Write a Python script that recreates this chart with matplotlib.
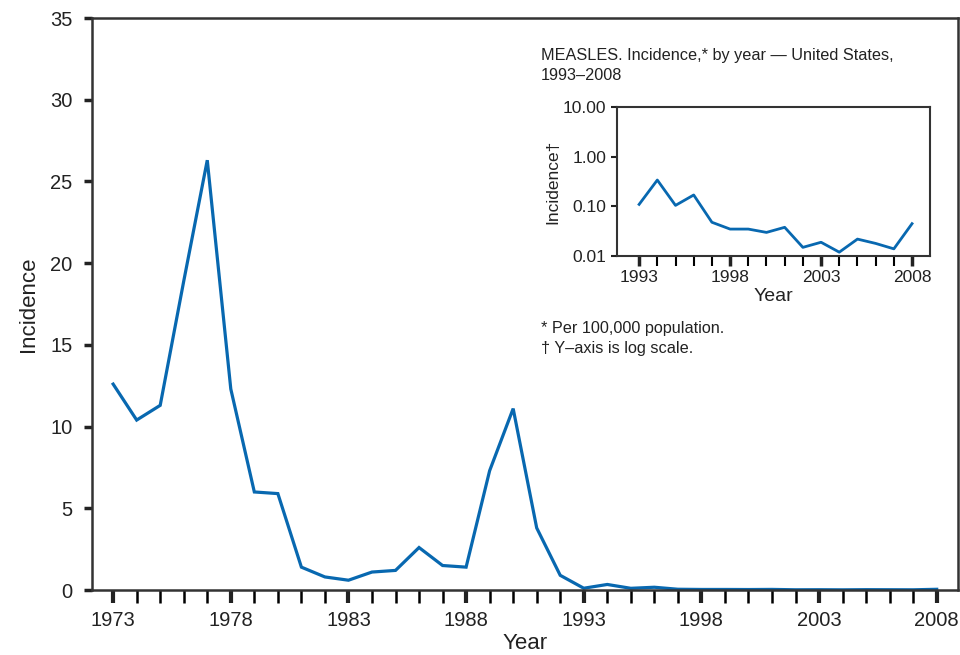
import matplotlib.pyplot as plt
from matplotlib.ticker import FixedLocator, MultipleLocator, FixedFormatter

plt.rcParams['font.family'] = ['Liberation Sans', 'DejaVu Sans']

# Incidence per 100,000 population, 1973-2008
years = list(range(1973, 2009))
incidence = [12.6, 10.4, 11.3, 18.9, 26.3, 12.3, 6.0, 5.9, 1.4, 0.8, 0.6, 1.1,
             1.2, 2.6, 1.5, 1.4, 7.3, 11.1, 3.8, 0.9,
             0.11, 0.34, 0.105, 0.17, 0.048, 0.035, 0.035, 0.030, 0.038,
             0.015, 0.019, 0.012, 0.022, 0.018, 0.014, 0.045]

# inset: 1993-2008, log scale
inset_years = years[20:]
inset_vals = incidence[20:]

blue = '#0868b0'

fig = plt.figure(figsize=(9.6, 6.55), dpi=100)
ax = fig.add_axes([0.0958, 0.0992, 0.902, 0.8733])
ax.plot(years, incidence, color=blue, lw=2.3, solid_joinstyle='miter')
ax.set_xlim(1972.1, 2008.9)
ax.set_ylim(0, 35)
ax.yaxis.set_major_locator(MultipleLocator(5))
ax.xaxis.set_major_locator(FixedLocator(list(range(1973, 2009, 5))))
ax.xaxis.set_minor_locator(FixedLocator(years))
ax.tick_params(axis='both', labelsize=14.5, direction='out', colors='#222222',
               labelcolor='#222222')
ax.tick_params(axis='y', which='major', length=6, width=2.5, pad=8)
ax.tick_params(axis='x', which='major', length=9, width=3, pad=6)
ax.tick_params(axis='x', which='minor', length=9, width=1.8)
for s in ax.spines.values():
    s.set_linewidth(1.8)
    s.set_color('#333333')
ax.set_xlabel('Year', fontsize=16, color='#222222', labelpad=2)
ax.set_ylabel('Incidence', fontsize=16, color='#222222', labelpad=8)

fig.text(0.5635, 0.927, 'MEASLES. Incidence,* by year \u2014 United States,\n1993\u20132008',
         fontsize=11.7, color='#222222', va='top', linespacing=1.45)
fig.text(0.5635, 0.51, '* Per 100,000 population.\n\u2020 Y\u2013axis is log scale.',
         fontsize=11.7, color='#222222', va='top', linespacing=1.45)

axi = fig.add_axes([0.643, 0.609, 0.326, 0.2275])
axi.plot(inset_years, inset_vals, color=blue, lw=2.0)
axi.set_yscale('log')
axi.set_ylim(0.01, 10)
axi.set_xlim(1991.8, 2009.0)
axi.yaxis.set_major_locator(FixedLocator([0.01, 0.1, 1, 10]))
axi.yaxis.set_major_formatter(FixedFormatter(['0.01', '0.10', '1.00', '10.00']))
axi.yaxis.set_minor_locator(FixedLocator([]))
axi.xaxis.set_major_locator(FixedLocator(list(range(1993, 2009, 5))))
axi.xaxis.set_minor_locator(FixedLocator(inset_years))
axi.tick_params(axis='both', labelsize=12.5, direction='out', colors='#222222',
                labelcolor='#222222')
axi.tick_params(axis='y', which='major', length=4, width=1.5, pad=4)
axi.tick_params(axis='x', which='major', length=7, width=2.5, pad=3)
axi.tick_params(axis='x', which='minor', length=7, width=1.5)
for s in axi.spines.values():
    s.set_linewidth(1.5)
    s.set_color('#333333')
axi.set_xlabel('Year', fontsize=14, color='#222222', labelpad=2)
axi.set_ylabel('Incidence\u2020', fontsize=12.5, color='#222222', labelpad=2)

fig.savefig('out.png', dpi=100)
